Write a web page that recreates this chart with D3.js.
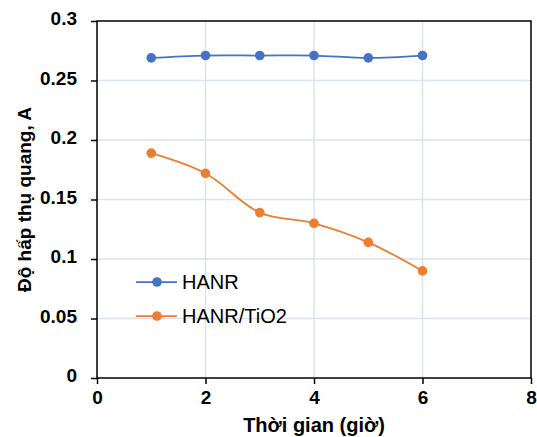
<!DOCTYPE html>
<html>
<head>
<meta charset="utf-8">
<script src="https://cdn.jsdelivr.net/npm/d3@7"></script>
<style>
  body { margin: 0; background: #fff; }
  svg { font-family: "Liberation Sans", Arial, sans-serif; }
  .tick text { font-size: 19px; font-weight: bold; fill: #000; }
  .grid line { stroke: #dde3ea; stroke-width: 1.5; }
</style>
</head>
<body>
<svg width="537" height="437"></svg>
<script>
var hours = [1, 2, 3, 4, 5, 6];
var hanr = [0.269, 0.271, 0.271, 0.271, 0.269, 0.271];
var hanrTio2 = [0.189, 0.172, 0.139, 0.130, 0.114, 0.090];
var xTicks = [0, 2, 4, 6, 8];
var yTicks = [0, 0.05, 0.1, 0.15, 0.2, 0.25, 0.3];

var series = [
    { name: "HANR", values: hanr, color: "#4472c4" },
    { name: "HANR/TiO2", values: hanrTio2, color: "#ed7d31" }
];

var plotLeft = 97, plotRight = 531, plotTop = 21, plotBottom = 378;

var svg = d3.select("svg");

var x = d3.scaleLinear().domain([0, 8]).range([plotLeft, plotRight]);
var y = d3.scaleLinear().domain([0, 0.3]).range([plotBottom, plotTop]);

// gridlines
svg.append("g").attr("class", "grid")
    .selectAll("line").data(xTicks.slice(1, -1)).enter().append("line")
    .attr("x1", d => x(d)).attr("x2", d => x(d))
    .attr("y1", plotTop).attr("y2", plotBottom);

svg.append("g").attr("class", "grid")
    .selectAll("line").data(yTicks.slice(1, -1)).enter().append("line")
    .attr("x1", plotLeft).attr("x2", plotRight)
    .attr("y1", d => y(d)).attr("y2", d => y(d));

// frame
svg.append("rect")
    .attr("x", plotLeft).attr("y", plotTop)
    .attr("width", plotRight - plotLeft).attr("height", plotBottom - plotTop)
    .attr("fill", "none").attr("stroke", "#000").attr("stroke-width", 1.5);

var xAxis = svg.append("g")
    .attr("transform", "translate(0," + plotBottom + ")")
    .call(d3.axisBottom(x).tickValues(xTicks).tickSize(6).tickPadding(7).tickFormat(d3.format("d")));

var yAxis = svg.append("g")
    .attr("transform", "translate(" + plotLeft + ",0)")
    .call(d3.axisLeft(y).tickValues(yTicks).tickSize(6).tickPadding(14).tickFormat(d => String(d)));

[xAxis, yAxis].forEach(a => {
    a.select(".domain").remove();
    a.selectAll(".tick line").attr("stroke", "#000").attr("stroke-width", 1.5);
});
yAxis.selectAll(".tick text").attr("dy", "0.2em");

var line = d3.line()
    .x((d, i) => x(hours[i]))
    .y(d => y(d))
    .curve(d3.curveCatmullRom.alpha(0.5));

series.forEach(s => {
    svg.append("path")
        .attr("d", line(s.values))
        .attr("fill", "none")
        .attr("stroke", s.color)
        .attr("stroke-width", 1.75);

    svg.append("g").selectAll("circle").data(s.values).enter().append("circle")
        .attr("cx", (d, i) => x(hours[i]))
        .attr("cy", d => y(d))
        .attr("r", 4.8)
        .attr("fill", s.color);
});

// legend
var legend = svg.append("g").attr("transform", "translate(136,282)");
series.forEach((s, i) => {
    var row = legend.append("g").attr("transform", "translate(0," + i * 34 + ")");
    row.append("line").attr("x1", 0).attr("x2", 41)
        .attr("stroke", s.color).attr("stroke-width", 1.75);
    row.append("circle").attr("cx", 21).attr("r", 4.8).attr("fill", s.color);
    row.append("text").attr("x", 46).attr("y", 7)
        .attr("font-size", 20).attr("fill", "#000").text(s.name);
});

// axis titles
svg.append("text")
    .attr("x", (plotLeft + plotRight) / 2).attr("y", 432)
    .attr("text-anchor", "middle")
    .attr("font-size", 20).attr("font-weight", "bold")
    .text("Thời gian (giờ)");

svg.append("text")
    .attr("transform", "translate(31," + (plotTop + plotBottom) / 2 + ") rotate(-90)")
    .attr("text-anchor", "middle")
    .attr("font-size", 19).attr("font-weight", "bold")
    .text("Độ hấp thụ quang, A");
</script>
</body>
</html>
